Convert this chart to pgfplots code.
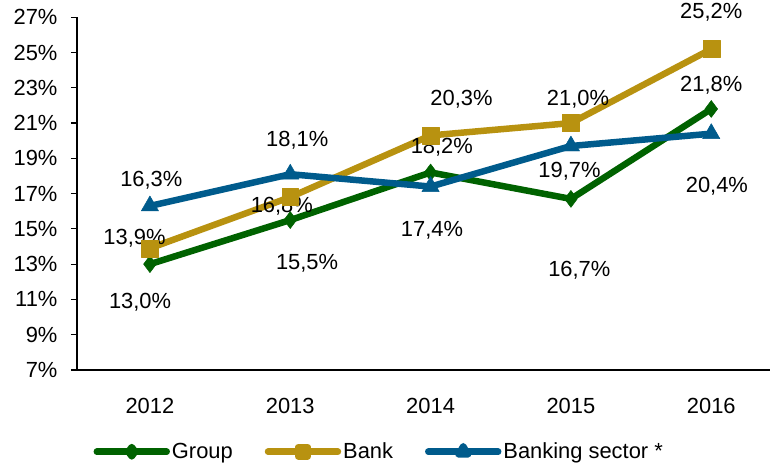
\documentclass[border=0pt]{standalone}
\usepackage{pgfplots}
\pgfplotsset{compat=1.18}
\usepackage{fontspec}
\setmainfont{Liberation Sans}
\definecolor{grpgreen}{RGB}{0,98,0}
\definecolor{bankgold}{RGB}{184,146,16}
\definecolor{secblue}{RGB}{0,91,140}

\begin{document}
\begin{tikzpicture}
\begin{axis}[
  scale only axis,
  width=694bp, height=353bp,
  xmin=-0.52, xmax=4.42,
  ymin=7, ymax=27,
  clip=false,
  axis x line*=bottom, axis y line*=left,
  axis line style={line width=1.6pt, -},
  xtick={0,1,2,3,4},
  xticklabels={2012,2013,2014,2015,2016},
  x tick style={draw=none},
  xticklabel style={yshift=-19bp},
  ytick={7,9,...,27},
  yticklabel={\pgfmathprintnumber{\tick}\%},
  /pgf/number format/assume math mode=true,
  y tick style={line width=1.2pt, black},
  tick align=outside,
  major tick length=6bp,
  ticklabel style={font=\fontsize{22}{24}\selectfont},
  yticklabel style={xshift=-10bp},
  legend style={at={(0.436,-0.232)}, anchor=center, draw=none, fill=none,
    legend columns=3, font=\fontsize{22}{24}\selectfont,
    /tikz/every even column/.append style={column sep=30bp}},
  legend image code/.code={%
    \draw[#1, line cap=round, mark repeat=2, mark phase=2, mark options={scale=0.55}]
      plot coordinates {(0bp,0bp)(35bp,0bp)(70bp,0bp)};},
  every axis plot/.append style={line width=6.5bp, line join=round},
]
\addplot[grpgreen, mark=diamond*, mark size=8.5bp, mark options={solid, line width=0.5pt}]
  coordinates {(0,13.0)(1,15.5)(2,18.2)(3,16.7)(4,21.8)};
\addlegendentry{Group}
\addplot[bankgold, mark=square*, mark size=8.5bp, mark options={solid, line width=0.5pt}]
  coordinates {(0,13.9)(1,16.8)(2,20.3)(3,21.0)(4,25.2)};
\addlegendentry{Bank}
\addplot[secblue, mark=triangle*, mark size=10bp, mark options={solid, line width=0.5pt}]
  coordinates {(0,16.3)(1,18.1)(2,17.4)(3,19.7)(4,20.4)};
\addlegendentry{Banking sector *}

% data labels
\begin{scope}[every node/.style={font=\fontsize{22}{24}\selectfont}]
\node at (axis cs:-0.07,10.85) {13,0\%};
\node at (axis cs:1.12,13.06) {15,5\%};
\node at (axis cs:2.08,19.63) {18,2\%};
\node at (axis cs:3.06,12.67) {16,7\%};
\node at (axis cs:4.0,23.15) {21,8\%};
\node at (axis cs:-0.11,14.48) {13,9\%};
\node at (axis cs:0.94,16.29) {16,8\%};
\node at (axis cs:2.22,22.35) {20,3\%};
\node at (axis cs:3.05,22.35) {21,0\%};
\node at (axis cs:4.0,27.28) {25,2\%};
\node at (axis cs:0.01,17.76) {16,3\%};
\node at (axis cs:1.05,20.03) {18,1\%};
\node at (axis cs:2.01,14.93) {17,4\%};
\node at (axis cs:2.99,18.27) {19,7\%};
\node at (axis cs:4.04,17.42) {20,4\%};
\end{scope}
% page frame as in the reference
\path (axis description cs:-0.111,-0.278) rectangle (axis description cs:1,1.048);
\end{axis}
\end{tikzpicture}
\end{document}
